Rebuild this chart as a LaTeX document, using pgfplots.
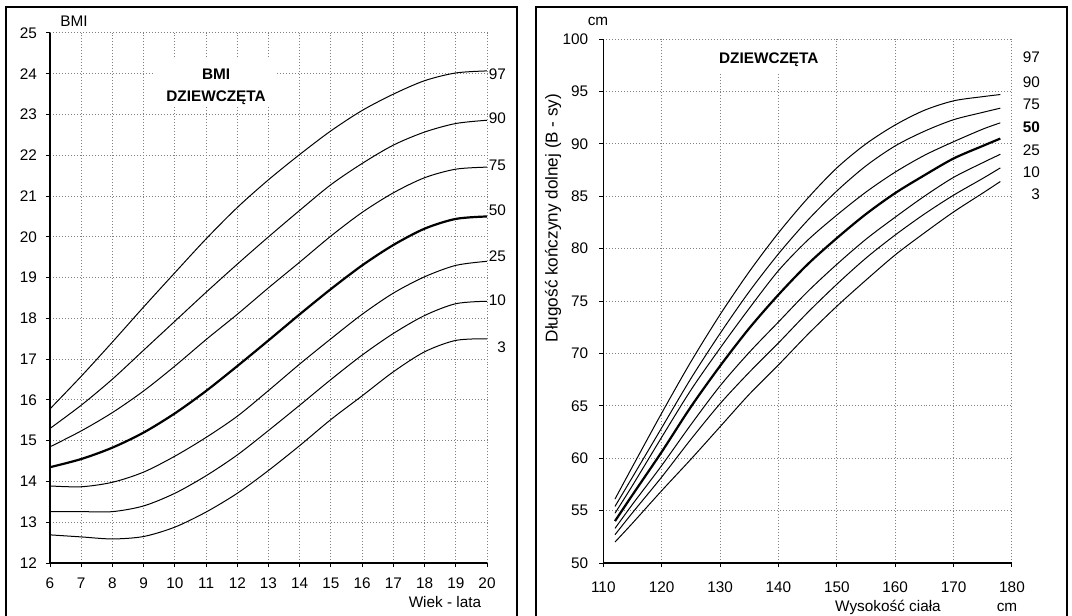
\documentclass[border=0pt]{standalone}
\usepackage{fontspec}
\setmainfont{Liberation Sans}
\usepackage{pgfplots}
\usepackage{pgfplotstable}
\pgfplotsset{compat=1.18}

\pgfplotstableread{
age p3 p10 p25 p50 p75 p90 p97
6 12.69 13.26 13.89 14.35 14.85 15.30 15.78
7 12.64 13.26 13.87 14.55 15.24 15.87 16.58
8 12.59 13.26 13.98 14.83 15.69 16.51 17.42
9 12.65 13.40 14.23 15.20 16.22 17.22 18.28
10 12.88 13.71 14.62 15.67 16.83 17.93 19.12
11 13.25 14.14 15.08 16.22 17.48 18.64 19.95
12 13.71 14.65 15.60 16.83 18.10 19.33 20.72
13 14.27 15.25 16.23 17.46 18.75 20.00 21.40
14 14.88 15.87 16.88 18.10 19.38 20.65 22.02
15 15.52 16.50 17.50 18.72 20.02 21.28 22.60
16 16.10 17.10 18.10 19.30 20.60 21.80 23.10
17 16.69 17.63 18.62 19.80 21.08 22.25 23.50
18 17.18 18.07 19.02 20.20 21.45 22.57 23.83
19 17.46 18.36 19.30 20.44 21.66 22.78 24.02
20 17.50 18.42 19.40 20.50 21.71 22.86 24.07
}\bmi

\pgfplotstableread{
h p3 p10 p25 p50 p75 p90 p97
112 52.0 52.7 53.3 54.0 54.75 55.4 56.1
115 53.8 54.8 55.6 56.5 57.4 58.2 59.2
120 56.9 58.2 59.3 60.6 62.0 62.9 64.3
125 59.9 61.8 63.2 64.9 66.5 67.6 69.2
130 63.0 65.2 66.9 68.8 70.5 71.9 73.7
135 66.1 68.2 70.1 72.4 74.3 75.9 77.8
140 68.9 71.0 73.0 75.6 77.9 79.5 81.5
145 71.8 73.9 75.9 78.5 80.8 82.7 84.8
150 74.5 76.6 78.5 81.0 83.2 85.5 87.7
155 77.0 79.1 80.9 83.3 85.4 87.9 90.0
160 79.4 81.3 83.0 85.3 87.3 89.8 91.8
165 81.5 83.3 85.0 87.0 88.9 91.2 93.2
170 83.5 85.1 86.8 88.6 90.2 92.3 94.1
175 85.3 86.7 88.2 89.8 91.4 93.0 94.5
178 86.4 87.7 89.0 90.5 92.0 93.4 94.7
}\leg

\pgfplotsset{
  common/.style={
    scale only axis, anchor=south west,
    axis x line*=bottom, axis y line*=left,
    axis line style={black, line width=0.6bp},
    tick align=outside, major tick length=2bp,
    tick style={black, line width=0.5bp},
    grid=major,
    major grid style={densely dotted, gray, line width=0.5bp},
    /pgf/number format/assume math mode=true,
    ticklabel style={font=\fontsize{7.7}{9}\selectfont},
    clip=false,
  },
  thin/.style={black, line width=0.5bp, smooth, tension=0.5},
  thick/.style={black, line width=1.1bp, smooth, tension=0.5},
}

\begin{document}
\begin{tikzpicture}
\path[use as bounding box] (0,0) rectangle (536bp,308bp);

% left chart
\begin{axis}[common,
  at={(25bp,26.5bp)}, width=218.5bp, height=265bp,
  xmin=6, xmax=20, ymin=12, ymax=25,
  xtick={6,...,20}, ytick={12,...,25},
  xticklabel style={yshift=-2bp},
  yticklabel style={xshift=-1bp},
]
\addplot[thin] table[x=age,y=p3] {\bmi};
\addplot[thin] table[x=age,y=p10] {\bmi};
\addplot[thin] table[x=age,y=p25] {\bmi};
\addplot[thick] table[x=age,y=p50] {\bmi};
\addplot[thin] table[x=age,y=p75] {\bmi};
\addplot[thin] table[x=age,y=p90] {\bmi};
\addplot[thin] table[x=age,y=p97] {\bmi};
\fill[white] (axis cs:9.33,24.39) rectangle (axis cs:13.28,23.18);
\node[font=\fontsize{7.7}{9}\selectfont\bfseries] at (axis cs:11.32,23.99) {BMI};
\node[font=\fontsize{7.7}{9}\selectfont\bfseries] at (axis cs:11.32,23.41) {DZIEWCZĘTA};
\end{axis}

% right chart
\begin{axis}[common,
  at={(301.65bp,26.5bp)}, width=204.35bp, height=262bp,
  xmin=110, xmax=180, ymin=50, ymax=100,
  xtick={110,120,...,180}, ytick={50,55,...,100},
  xticklabel style={yshift=-4bp},
  yticklabel style={xshift=-2bp},
]
\addplot[thin] table[x=h,y=p3] {\leg};
\addplot[thin] table[x=h,y=p10] {\leg};
\addplot[thin] table[x=h,y=p25] {\leg};
\addplot[thick] table[x=h,y=p50] {\leg};
\addplot[thin] table[x=h,y=p75] {\leg};
\addplot[thin] table[x=h,y=p90] {\leg};
\addplot[thin] table[x=h,y=p97] {\leg};
\fill[white] (axis cs:128.6,99.85) rectangle (axis cs:148.8,96.85);
\node[font=\fontsize{7.7}{9}\selectfont\bfseries] at (axis cs:138.35,98.0) {DZIEWCZĘTA};
\end{axis}

\begin{scope}[x=0.5bp, y=-0.5bp, shift={(0,308bp)}, font=\fontsize{7.7}{9}\selectfont]
% frames
\draw[line width=1bp] (6,616) -- (6,7) -- (517,7) -- (517,616);
\draw[line width=1bp] (536,616) -- (536,7) -- (1067,7) -- (1067,616);
% left texts
\node at (74,21) {BMI};
\node at (445,602) {Wiek - lata};
\node[anchor=east] at (513,74) {97};
\node[anchor=east] at (513,118) {90};
\node[anchor=east] at (513,165) {75};
\node[anchor=east] at (513,210) {50};
\node[anchor=east] at (513,256) {25};
\node[anchor=east] at (513,300) {10};
\node[anchor=east] at (513,347) {3};
% right texts
\node at (598,21) {cm};
\node[rotate=90, font=\fontsize{8.6}{10}\selectfont] at (553,218) {Długość kończyny dolnej (B - sy)};
\node at (888,607) {Wysokość ciała};
\node at (1007,607) {cm};
\node[anchor=east] at (1047,57) {97};
\node[anchor=east] at (1047,82) {90};
\node[anchor=east] at (1047,104) {75};
\node[anchor=east,font=\fontsize{7.7}{9}\selectfont\bfseries] at (1047,127) {50};
\node[anchor=east] at (1047,150) {25};
\node[anchor=east] at (1047,172) {10};
\node[anchor=east] at (1047,194) {3};
\end{scope}
\end{tikzpicture}
\end{document}
